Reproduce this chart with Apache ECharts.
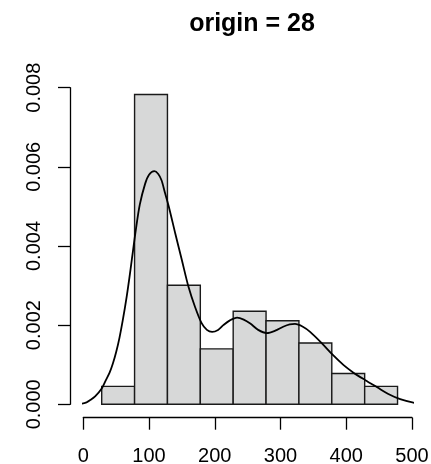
<!DOCTYPE html>
<html>
<head>
<meta charset="utf-8">
<script src="https://cdn.jsdelivr.net/npm/echarts@6/dist/echarts.min.js"></script>
<style>
html,body{margin:0;padding:0;background:#fff;}
#chart{width:431px;height:464px;}
</style>
</head>
<body>
<div id="chart"></div>
<script>
var titleText = 'origin = 28';
var binStarts = [28, 78, 128, 178, 228, 278, 328, 378, 428];
var binWidth = 50;
var densities = [0.000454, 0.00783, 0.00301, 0.00140, 0.00235, 0.00211, 0.00155, 0.00078, 0.000454];
var curveX = [-18, -5, 5, 10, 18, 28, 34, 40, 45, 50, 55, 60, 66, 70, 74, 80, 86, 94, 100, 108, 114, 119, 124, 130, 140, 150, 160, 170, 180, 188, 196, 205, 213, 223, 234, 244, 254, 266, 279, 292, 304, 314, 322, 334, 345, 363, 380, 396, 411, 429, 447, 464, 482, 502, 518];
var curveY = [0, 0.00001, 0.00005, 0.0001, 0.0002, 0.0004, 0.0006, 0.0008, 0.00103, 0.00132, 0.00168, 0.00212, 0.00272, 0.00318, 0.00368, 0.00442, 0.00505, 0.00557, 0.0058, 0.00589, 0.00582, 0.00566, 0.00536, 0.005, 0.00431, 0.00364, 0.00297, 0.00246, 0.00205, 0.00188, 0.00183, 0.00188, 0.002, 0.00212, 0.00219, 0.00214, 0.00204, 0.00188, 0.0018, 0.00186, 0.00196, 0.00202, 0.00203, 0.00196, 0.00183, 0.00154, 0.00124, 0.00099, 0.0008, 0.00061, 0.00043, 0.00026, 0.00013, 0.00004, 0];
var xTicks = [0, 100, 200, 300, 400, 500];
var yTicks = [0, 0.002, 0.004, 0.006, 0.008];

var barData = binStarts.map(function (s, i) { return [s, s + binWidth, densities[i]]; });
var lineData = curveX.map(function (x, i) { return [x, curveY[i]]; });

var chart = echarts.init(document.getElementById('chart'), null, {renderer: 'canvas'});
var font = 'Liberation Sans, Arial, Helvetica, sans-serif';
chart.setOption({
  animation: false,
  backgroundColor: '#ffffff',
  title: {
    text: titleText,
    left: 247,
    top: 7,
    textAlign: 'center',
    textStyle: {fontFamily: font, fontWeight: 'bold', fontSize: 25, color: '#000'}
  },
  grid: {left: 83.3, right: 19, top: 87.7, bottom: 59.7, containLabel: false, outerBoundsMode: 'none'},
  xAxis: {
    type: 'value',
    min: xTicks[0], max: xTicks[xTicks.length - 1], interval: 100,
    offset: 13.4,
    splitLine: {show: false},
    axisLine: {show: true, onZero: false, lineStyle: {color: '#000', width: 1.3}},
    axisTick: {show: true, length: 12, lineStyle: {color: '#000', width: 1.3}},
    axisLabel: {margin: 29, fontFamily: font, fontSize: 20, color: '#000'}
  },
  yAxis: {
    type: 'value',
    min: yTicks[0], max: yTicks[yTicks.length - 1], interval: 0.002,
    offset: 13.3,
    splitLine: {show: false},
    axisLine: {show: true, onZero: false, lineStyle: {color: '#000', width: 1.3}},
    axisTick: {show: true, length: 12, lineStyle: {color: '#000', width: 1.3}},
    axisLabel: {
      margin: 26, rotate: 90, fontFamily: font, fontSize: 20, color: '#000',
      formatter: function (v) { return v.toFixed(3); }
    }
  },
  series: [
    {
      type: 'custom',
      data: barData,
      encode: {x: [0, 1], y: 2},
      renderItem: function (params, api) {
        var p0 = api.coord([api.value(0), 0]);
        var p1 = api.coord([api.value(1), api.value(2)]);
        return {
          type: 'rect',
          shape: {x: p0[0], y: p1[1], width: p1[0] - p0[0], height: p0[1] - p1[1]},
          style: {fill: '#d7d8d8', stroke: '#1a1a1a', lineWidth: 1.4}
        };
      },
      z: 2
    },
    {
      type: 'line',
      data: lineData,
      smooth: 0.3,
      symbol: 'none',
      clip: false,
      lineStyle: {color: '#000', width: 1.8},
      z: 3
    }
  ]
});
</script>
</body>
</html>
